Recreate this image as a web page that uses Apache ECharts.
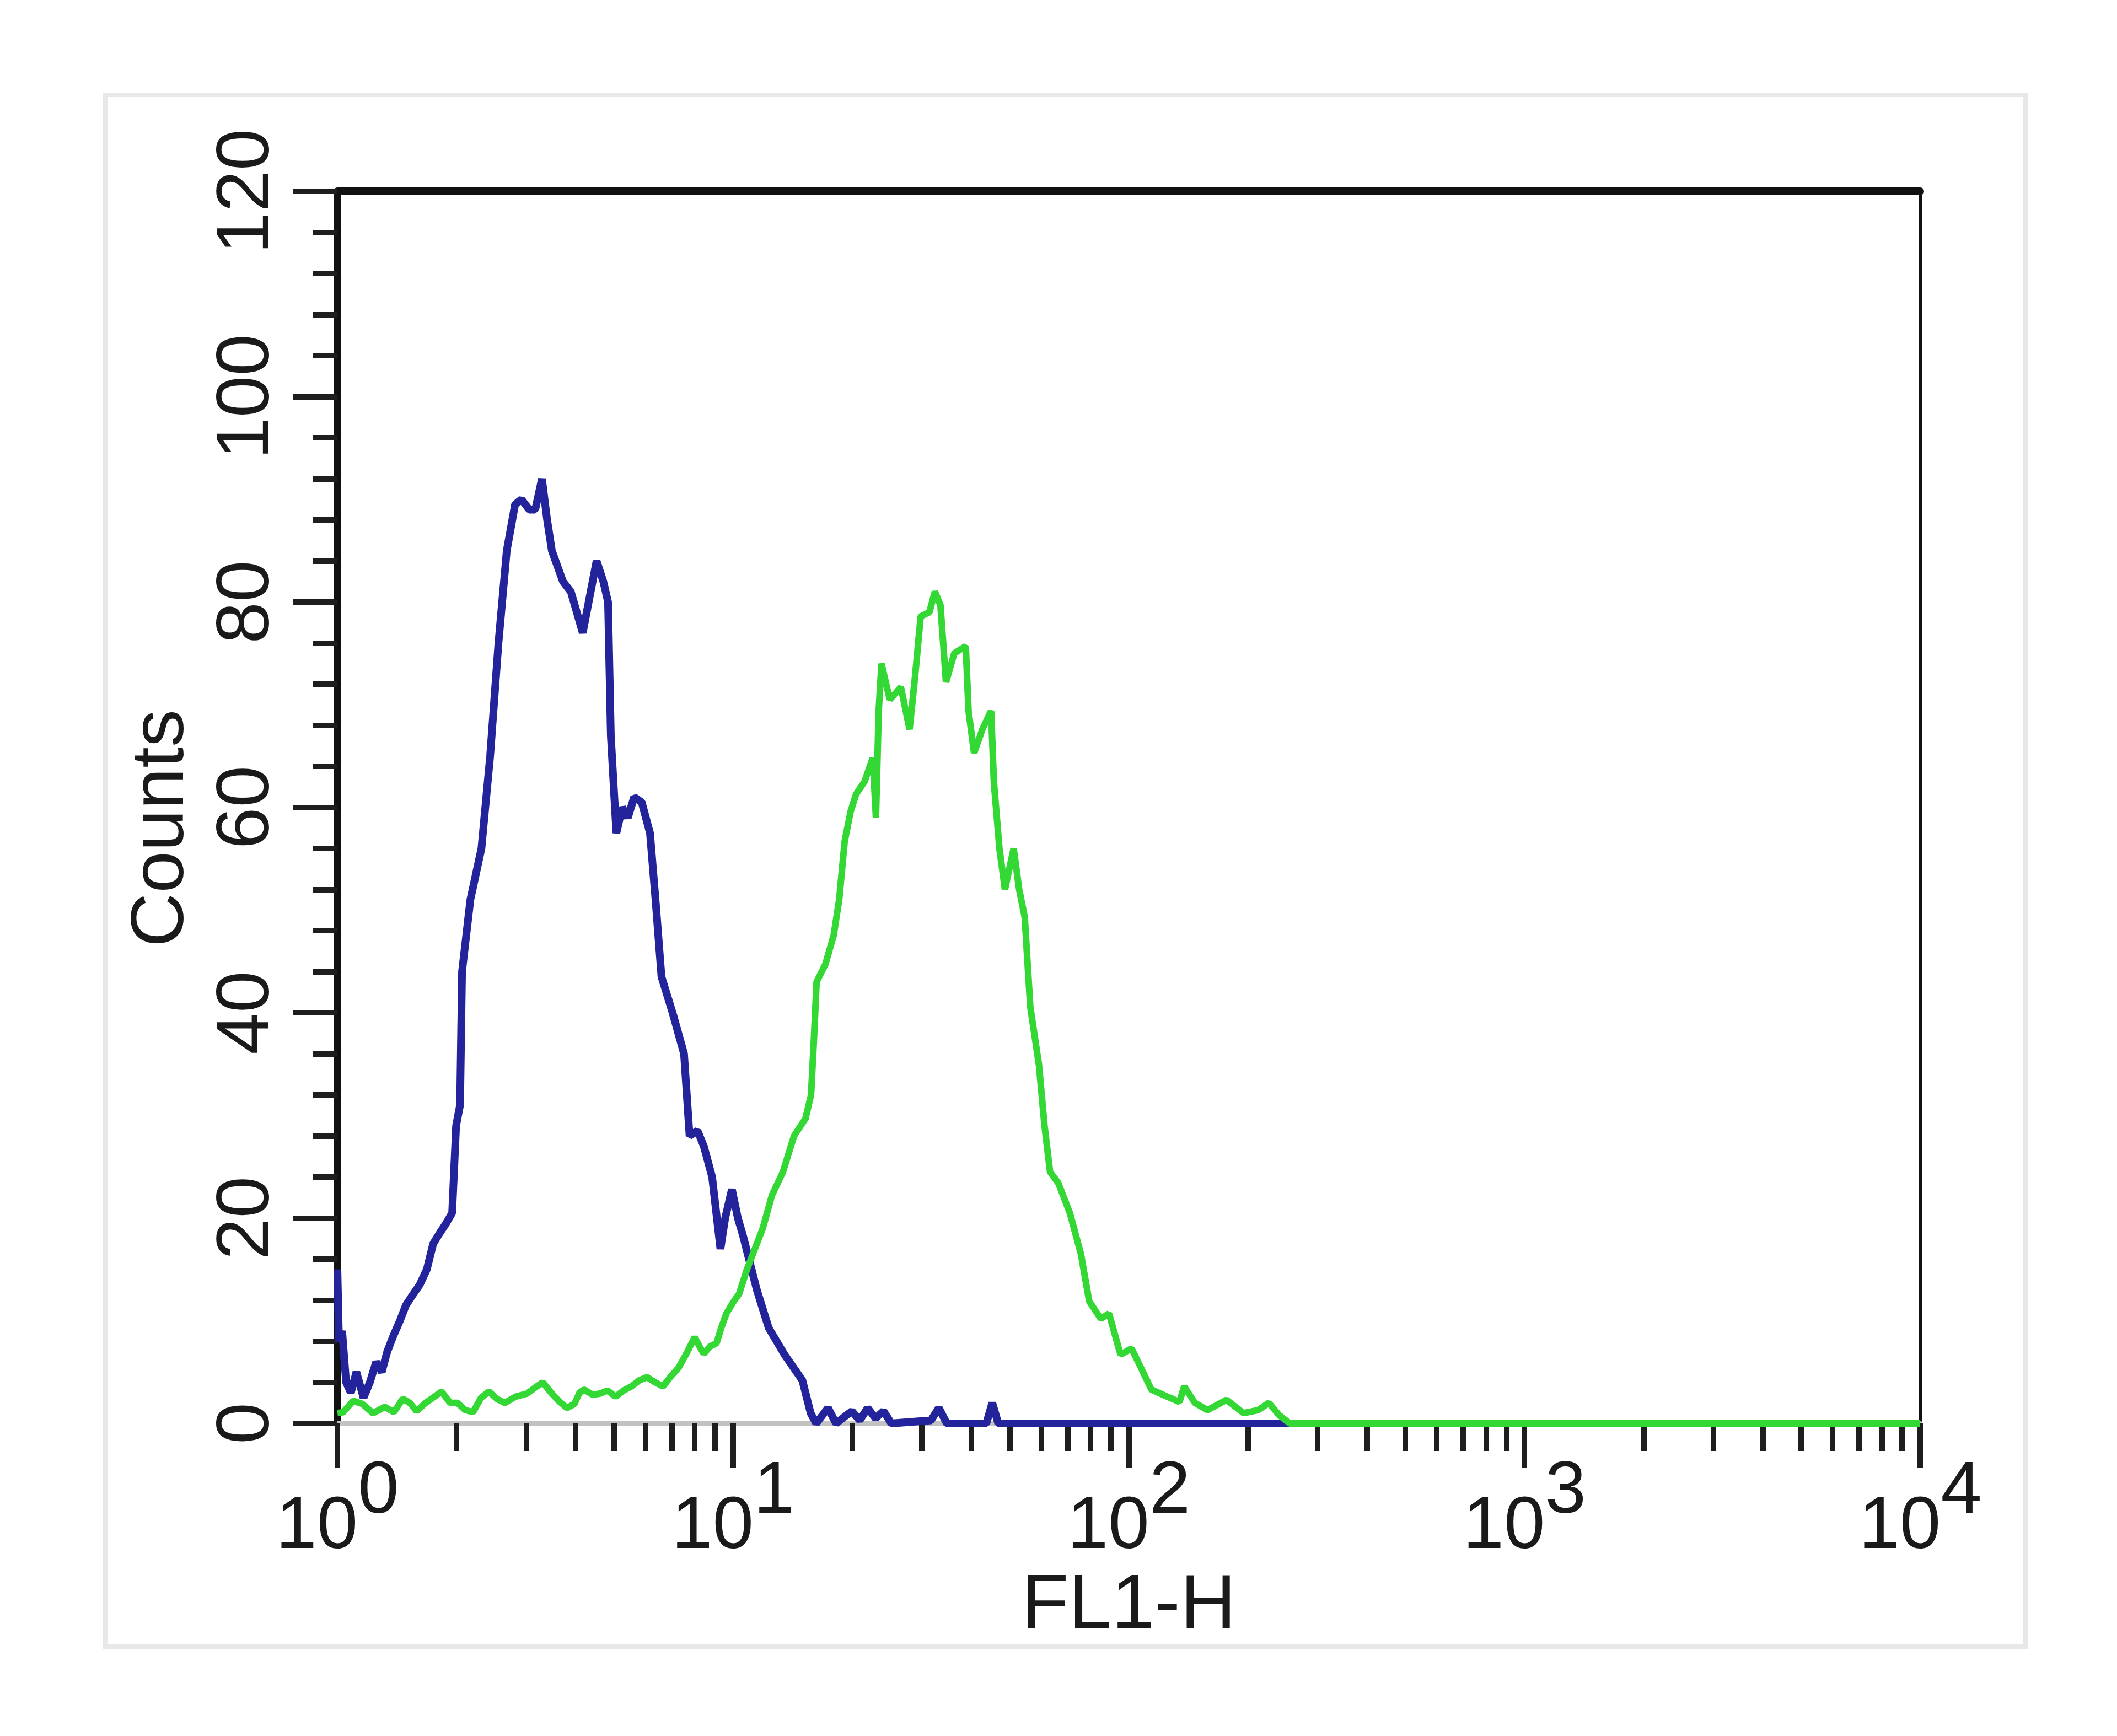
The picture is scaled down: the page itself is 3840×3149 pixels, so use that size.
<!DOCTYPE html>
<html>
<head>
<meta charset="utf-8">
<script src="https://cdn.jsdelivr.net/npm/echarts@6/dist/echarts.min.js"></script>
<style>
html,body{margin:0;padding:0;background:#fff;}
#chart{width:3840px;height:3149px;}
</style>
</head>
<body>
<div id="chart"></div>
<script>
// FL1-H positions in decades (log10 of FL1-H) and the counts
const blueDecade = [0.000,0.004,0.012,0.022,0.034,0.048,0.066,0.082,0.098,0.112,0.126,0.141,0.158,0.173,0.19,0.208,0.226,0.242,0.258,0.275,0.29,0.3,0.31,0.315,0.336,0.364,0.386,0.407,0.428,0.449,0.465,0.485,0.5,0.517,0.53,0.542,0.57,0.59,0.605,0.62,0.635,0.655,0.672,0.684,0.691,0.705,0.72,0.734,0.75,0.769,0.79,0.805,0.819,0.847,0.876,0.89,0.91,0.926,0.947,0.968,0.98,0.997,1.012,1.025,1.06,1.09,1.13,1.175,1.196,1.21,1.24,1.26,1.3,1.32,1.34,1.36,1.38,1.4,1.5,1.52,1.54,1.64,1.655,1.67,1.8,2.5,3.0,3.5,4.0];
const blueCounts = [15,8,9,4,3,5,2.5,4,6,5,7,8.5,10,11.5,12.5,13.5,15,17.5,18.5,19.5,20.5,29,31,44,51,56,65,76,85,89.5,90,89,89,92,88,85,82,81,79,77,80,84,82,80,67,57.5,60,59,61,60.5,57.5,50.5,43.5,40,36,28,28.5,27,24,17,20,22.8,20,18.3,13,9.3,6.7,4.2,1,0,1.5,0,1.2,0.3,1.5,0.5,1.2,0,0.3,1.5,0,0,2,0,0,0,0,0,0];

const greenDecade = [0.0,0.015,0.04,0.063,0.09,0.12,0.143,0.165,0.183,0.2,0.223,0.245,0.263,0.285,0.303,0.323,0.343,0.363,0.383,0.403,0.423,0.45,0.479,0.5,0.519,0.54,0.559,0.58,0.599,0.612,0.623,0.645,0.663,0.683,0.703,0.723,0.743,0.763,0.783,0.803,0.823,0.843,0.862,0.882,0.903,0.915,0.926,0.942,0.958,0.97,0.983,1.0,1.015,1.035,1.055,1.075,1.098,1.126,1.154,1.183,1.197,1.204,1.211,1.233,1.254,1.268,1.282,1.297,1.311,1.332,1.353,1.361,1.368,1.375,1.396,1.424,1.446,1.46,1.474,1.496,1.51,1.524,1.538,1.559,1.588,1.595,1.609,1.63,1.652,1.659,1.673,1.687,1.709,1.723,1.737,1.751,1.773,1.787,1.801,1.822,1.851,1.879,1.9,1.929,1.95,1.979,2.007,2.036,2.057,2.092,2.128,2.14,2.167,2.199,2.247,2.29,2.327,2.354,2.38,2.407,3.0,4.0];
const greenCounts = [1,1.1,2.2,1.9,1,1.6,1.1,2.4,2,1.2,2,2.6,3.1,2,2,1.3,1.1,2.5,3.1,2.4,2,2.6,2.9,3.5,4,3,2.2,1.5,1.9,3,3.3,2.8,2.9,3.2,2.6,3.2,3.6,4.2,4.5,4,3.6,4.6,5.4,6.8,8.4,7.5,6.8,7.5,7.8,9.3,10.7,11.8,12.6,15,17,19,22.2,24.5,28,29.7,32,37.2,43,44.7,47.5,51,56.7,59.6,61.3,62.5,64.8,59,69.4,74,70.5,71.7,67.6,72.8,78.6,79,81,79.7,72.2,75,75.7,69.4,65.3,67.6,69.4,62.5,56,52,56,52,49.3,40.6,34.9,29,24.5,23.4,20.5,16.5,11.9,10.2,10.7,6.7,7.3,5,3.3,2.7,2.1,3.6,2,1.3,2.3,1,1.3,2,0.8,0,0,0];

const xMinorTicks = [2,3,4,5,6,7,8,9,20,30,40,50,60,70,80,90,200,300,400,500,600,700,800,900,2000,3000,4000,5000,6000,7000,8000,9000];
const yTickInterval = 20;
const xAxisTitle = 'FL1-H';
const yAxisTitle = 'Counts';

function pairs(dec, cnt){
  const n = Math.min(dec.length, cnt.length);
  const out = [];
  for (let i = 0; i < n; i++) out.push([Math.pow(10, dec[i]), cnt[i]]);
  return out;
}

const FONT = "'Liberation Sans',Arial,sans-serif";
const TXT = '#1a1a1a';

const chart = echarts.init(document.getElementById('chart'), null, {renderer:'canvas'});
chart.setOption({
  backgroundColor:'#ffffff',
  animation:false,
  graphic:[{
    type:'rect', silent:true, z:-10,
    shape:{x:191, y:172, width:3483, height:2815},
    style:{fill:'none', stroke:'#e8e8e8', lineWidth:8}
  }],
  grid:{left:612, right:357, top:347, bottom:567, containLabel:false},
  xAxis:[
    {
      type:'log', logBase:10, min:1, max:10000,
      axisLine:{show:true, onZero:false, lineStyle:{color:'#c2c2c2', width:8}},
      axisTick:{show:true, length:80, lineStyle:{color:'#1e1e1e', width:10}},
      splitLine:{show:false},
      axisLabel:{
        margin:58,
        formatter:function(v){ return '{b|10}{s|' + Math.round(Math.log10(v)) + '}'; },
        rich:{
          b:{fontSize:134, fontFamily:FONT, color:TXT, lineHeight:198, verticalAlign:'bottom'},
          s:{fontSize:134, fontFamily:FONT, color:TXT, verticalAlign:'top'}
        }
      },
      name:xAxisTitle, nameLocation:'middle', nameGap:262,
      nameTextStyle:{fontSize:140, fontFamily:FONT, color:TXT}
    },
    {
      type:'value', min:0, max:1, position:'top',
      axisLine:{show:true, onZero:false, lineStyle:{color:'#111', width:14}},
      axisTick:{show:false}, axisLabel:{show:false}, splitLine:{show:false}
    },
    {
      type:'log', logBase:10, min:1, max:10000, position:'bottom',
      axisLine:{show:false, onZero:false},
      axisTick:{show:true, length:50, customValues:xMinorTicks, lineStyle:{color:'#1e1e1e', width:10}},
      axisLabel:{show:false}, splitLine:{show:false}
    }
  ],
  yAxis:[
    {
      type:'value', min:0, max:120, interval:yTickInterval,
      axisLine:{show:true, onZero:false, lineStyle:{color:'#111', width:13}},
      axisTick:{show:true, length:80, lineStyle:{color:'#1e1e1e', width:10}},
      minorTick:{show:true, splitNumber:5, length:45, lineStyle:{color:'#1e1e1e', width:10}},
      splitLine:{show:false}, minorSplitLine:{show:false},
      axisLabel:{rotate:90, margin:95, fontSize:136, fontFamily:FONT, color:TXT},
      name:yAxisTitle, nameLocation:'middle', nameGap:250, nameRotate:90,
      nameTextStyle:{fontSize:136, fontFamily:FONT, color:TXT, padding:[0,76,0,0]}
    },
    {
      type:'value', min:0, max:120, position:'right',
      axisLine:{show:true, onZero:false, lineStyle:{color:'#111', width:7}},
      axisTick:{show:false}, axisLabel:{show:false}, splitLine:{show:false}
    }
  ],
  series:[
    {
      name:'control', type:'line', xAxisIndex:0, yAxisIndex:0,
      data:pairs(blueDecade, blueCounts),
      showSymbol:false, symbol:'none',
      lineStyle:{color:'#23239c', width:14}, z:3
    },
    {
      name:'antibody', type:'line', xAxisIndex:0, yAxisIndex:0,
      data:pairs(greenDecade, greenCounts),
      showSymbol:false, symbol:'none',
      lineStyle:{color:'#34d834', width:12}, z:4
    }
  ]
});
</script>
</body>
</html>
